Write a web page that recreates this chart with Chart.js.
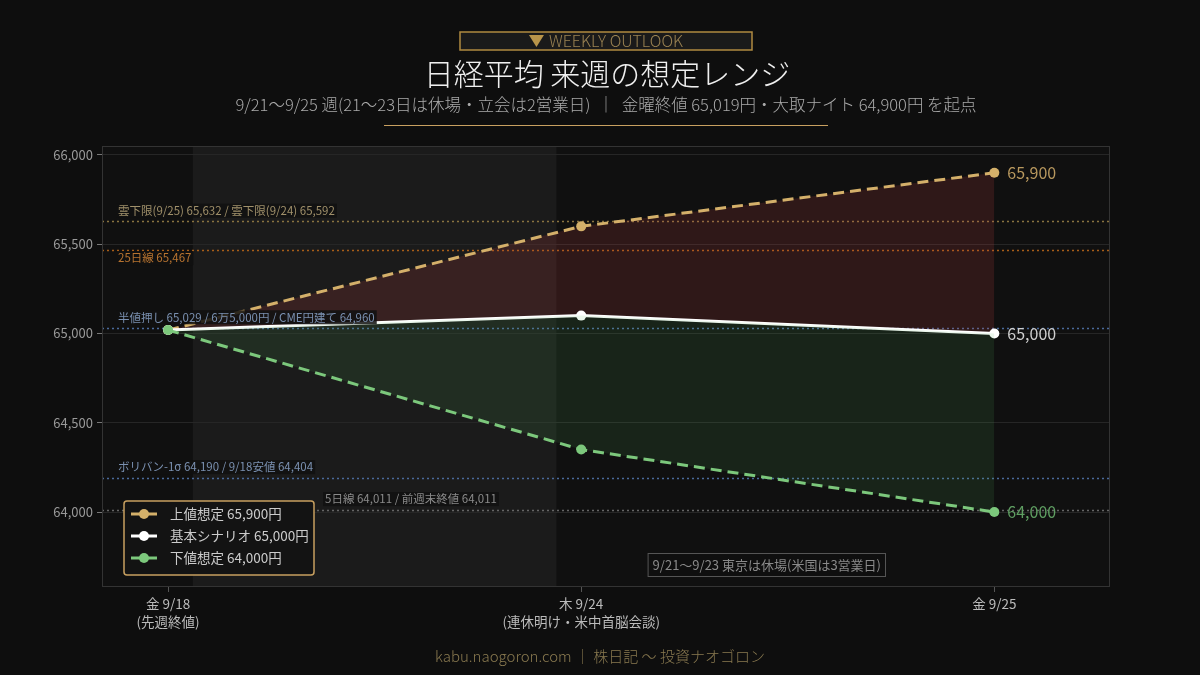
<!DOCTYPE html>
<html><head><meta charset="utf-8">
<script src="https://cdn.jsdelivr.net/npm/chart.js@4"></script>
<style>html,body{margin:0;padding:0;background:#0e0e0e;}#wrap{width:1200px;height:675px;position:relative;}</style>
</head><body><div id="wrap"><canvas id="c" width="1200" height="675"></canvas></div>
<script>
const FONT = '"Noto Sans CJK JP", "Noto Sans", sans-serif';
const xPositions = [0, 1, 2];
const xLabels = [['金 9/18', '(先週終値)'], ['木 9/24', '(連休明け・米中首脳会談)'], ['金 9/25']];
const upperValues = [65019, 65600, 65900];
const baseValues = [65019, 65100, 65000];
const lowerValues = [65019, 64350, 64000];
const seriesLabels = ['上値想定 65,900円', '基本シナリオ 65,000円', '下値想定 64,000円'];
const endLabels = ['65,900', '65,000', '64,000'];
const yTicks = [64000, 64500, 65000, 65500, 66000];
const refValues = [65632, 65467, 65029, 64190, 64011];
const refLabels = ['雲下限(9/25) 65,632 / 雲下限(9/24) 65,592', '25日線 65,467', '半値押し 65,029 / 6万5,000円 / CME円建て 64,960', 'ボリバン-1σ 64,190 / 9/18安値 64,404', '5日線 64,011 / 前週末終値 64,011'];
const holidayBand = [0.06, 0.94];
const holidayNote = '9/21〜9/23 東京は休場(米国は3営業日)';
const headerTag = 'WEEKLY OUTLOOK';
const titleText = '日経平均 来週の想定レンジ';
const subtitleText = '9/21〜9/25 週(21〜23日は休場・立会は2営業日)  ｜  金曜終値 65,019円・大取ナイト 64,900円 を起点';
const footerText = 'kabu.naogoron.com ｜ 株日記 〜 投資ナオゴロン';

const seriesColors = ['#d4b06a', '#ffffff', '#7cc87c'];
const endLabelColors = ['#b8985e', '#cfcfcf', '#5f9f62'];
const refLineColors = ['#8a7440', '#a85e18', '#4a6a9a', '#4a6a9a', '#666666'];
const refTextColors = ['#a0906a', '#b87430', '#7a90b0', '#7a90b0', '#8a8a8a'];

const toPts = arr => arr.map((v, i) => ({x: xPositions[i], y: v}));

const deco = {
  id: 'deco',
  beforeDraw(chart) {
    const {ctx, chartArea: a, scales: {x}} = chart;
    ctx.save();
    ctx.fillStyle = '#0e0e0e';
    ctx.fillRect(0, 0, chart.width, chart.height);
    ctx.fillStyle = '#101010';
    ctx.fillRect(a.left, a.top, a.right - a.left, a.bottom - a.top);
    const bx1 = x.getPixelForValue(holidayBand[0]), bx2 = x.getPixelForValue(holidayBand[1]);
    ctx.fillStyle = '#1b1b1b';
    ctx.fillRect(bx1, a.top, bx2 - bx1, a.bottom - a.top);
    ctx.restore();
  },
  beforeDatasetsDraw(chart) {
    const {ctx, chartArea: a, scales: {y}} = chart;
    ctx.save();
    ctx.lineWidth = 1.5;
    ctx.setLineDash([2, 3]);
    refValues.forEach((v, i) => {
      const py = Math.round(y.getPixelForValue(v)) + 0.5;
      ctx.strokeStyle = refLineColors[i];
      ctx.beginPath(); ctx.moveTo(a.left, py); ctx.lineTo(a.right, py); ctx.stroke();
    });
    ctx.restore();
  },
  afterDatasetsDraw(chart) {
    const {ctx, chartArea: a, scales: {x, y}} = chart;
    ctx.save();
    ctx.font = '11.5px ' + FONT;
    ctx.textBaseline = 'middle';
    ctx.textAlign = 'left';
    const offs = [-10, 8, -11, -11, -11];
    const lx = [a.left + 16, a.left + 16, a.left + 16, a.left + 16, a.left + 223];
    refValues.forEach((v, i) => {
      const py = y.getPixelForValue(v) + offs[i];
      const w = ctx.measureText(refLabels[i]).width;
      ctx.fillStyle = 'rgba(16,16,16,0.85)';
      ctx.fillRect(lx[i] - 2, py - 7, w + 4, 14);
      ctx.fillStyle = refTextColors[i];
      ctx.fillText(refLabels[i], lx[i], py);
    });
    ctx.font = '16px ' + FONT;
    [upperValues, baseValues, lowerValues].forEach((arr, i) => {
      const n = arr.length - 1;
      ctx.fillStyle = endLabelColors[i];
      ctx.fillText(endLabels[i], x.getPixelForValue(xPositions[n]) + 13, y.getPixelForValue(arr[n]));
    });
    ctx.font = '13px ' + FONT;
    const nw = ctx.measureText(holidayNote).width;
    const nx2 = a.right - 224, ny2 = a.bottom - 10;
    const nx1 = nx2 - nw - 10;
    ctx.fillStyle = 'rgba(16,16,16,0.9)';
    ctx.fillRect(nx1, ny2 - 24, nx2 - nx1, 24);
    ctx.strokeStyle = '#555';
    ctx.lineWidth = 1;
    ctx.strokeRect(nx1 + 0.5, ny2 - 23.5, nx2 - nx1 - 1, 23);
    ctx.fillStyle = '#8a8a8a';
    ctx.fillText(holidayNote, nx1 + 5, ny2 - 12);
    const lgx = a.left + 22, lgy = a.bottom - 86, lgw = 190, lgh = 74;
    ctx.fillStyle = '#131313';
    ctx.beginPath(); ctx.roundRect(lgx, lgy, lgw, lgh, 3); ctx.fill();
    ctx.strokeStyle = '#c8a060'; ctx.lineWidth = 1.5; ctx.stroke();
    ctx.font = '13.5px ' + FONT;
    chart.data.datasets.forEach((ds, i) => {
      const cy = lgy + 13 + i * 22;
      ctx.strokeStyle = ds.borderColor; ctx.lineWidth = 3; ctx.setLineDash([]);
      ctx.beginPath(); ctx.moveTo(lgx + 7, cy); ctx.lineTo(lgx + 33, cy); ctx.stroke();
      ctx.fillStyle = ds.borderColor;
      ctx.beginPath(); ctx.arc(lgx + 20, cy, 5, 0, Math.PI * 2); ctx.fill();
      ctx.fillStyle = '#cccccc';
      ctx.fillText(ds.label, lgx + 46, cy);
    });
    ctx.strokeStyle = '#333';
    ctx.lineWidth = 1;
    ctx.strokeRect(a.left + 0.5, a.top + 0.5, a.right - a.left - 1, a.bottom - a.top - 1);
    ctx.restore();
  },
  afterDraw(chart) {
    const {ctx, chartArea: a} = chart;
    const cx = (a.left + a.right) / 2;
    ctx.save();
    ctx.textAlign = 'center'; ctx.textBaseline = 'middle';
    ctx.fillStyle = '#1a1a1a';
    ctx.fillRect(cx - 146, 32, 292, 18);
    ctx.strokeStyle = '#b08a40'; ctx.lineWidth = 1.5;
    ctx.strokeRect(cx - 146, 32, 292, 18);
    ctx.font = '300 16px ' + FONT;
    ctx.textAlign = 'left';
    const tw = ctx.measureText(headerTag).width;
    const tx = cx - (tw + 20) / 2;
    ctx.fillStyle = '#b8944a';
    ctx.beginPath(); ctx.moveTo(tx, 35); ctx.lineTo(tx + 15, 35); ctx.lineTo(tx + 7.5, 47); ctx.closePath(); ctx.fill();
    ctx.fillStyle = '#9a8252';
    ctx.fillText(headerTag, tx + 20, 41);
    ctx.textAlign = 'center';
    ctx.font = '300 30px ' + FONT;
    ctx.fillStyle = '#f0f0f0';
    ctx.fillText(titleText, cx + 1, 74);
    ctx.font = '300 16.5px ' + FONT;
    ctx.fillStyle = '#aaaaaa';
    ctx.fillText(subtitleText, cx, 105);
    ctx.strokeStyle = '#c8a060'; ctx.lineWidth = 1;
    ctx.beginPath(); ctx.moveTo(cx - 222, 125.5); ctx.lineTo(cx + 222, 125.5); ctx.stroke();
    ctx.font = '300 15px ' + FONT;
    ctx.fillStyle = '#8a7a50';
    ctx.fillText(footerText, cx - 6, 656);
    ctx.restore();
  }
};

new Chart(document.getElementById('c'), {
  type: 'line',
  data: {
    datasets: [
      {label: seriesLabels[0], data: toPts(upperValues), borderColor: seriesColors[0], backgroundColor: 'rgba(190,60,60,0.18)', borderWidth: 3, borderDash: [11, 6], pointRadius: 5, pointBackgroundColor: seriesColors[0], pointBorderWidth: 0, fill: {target: 1}, order: 2, tension: 0},
      {label: seriesLabels[1], data: toPts(baseValues), borderColor: seriesColors[1], backgroundColor: seriesColors[1], borderWidth: 3, pointRadius: 5, pointBackgroundColor: seriesColors[1], pointBorderWidth: 0, fill: false, order: 1, tension: 0},
      {label: seriesLabels[2], data: toPts(lowerValues), borderColor: seriesColors[2], backgroundColor: 'rgba(80,180,90,0.12)', borderWidth: 3, borderDash: [11, 6], pointRadius: 5, pointBackgroundColor: seriesColors[2], pointBorderWidth: 0, fill: {target: 1}, order: 0, tension: 0}
    ]
  },
  options: {
    responsive: false,
    animation: false,
    layout: {padding: {left: 0, top: 146, right: 90, bottom: 38}},
    plugins: {legend: {display: false}, tooltip: {enabled: false}, title: {display: false}},
    scales: {
      x: {
        type: 'linear', min: -0.16, max: 2.28,
        afterBuildTicks: s => { s.ticks = xPositions.map(v => ({value: v})); },
        afterFit: s => { s.height = 50; },
        grid: {drawOnChartArea: false, drawTicks: true, tickLength: 5, tickColor: '#555'},
        border: {display: false},
        ticks: {color: '#bbbbbb', font: {family: FONT, size: 13.5, lineHeight: 1.35}, padding: 3, maxRotation: 0, autoSkip: false,
          callback: (v) => { const i = xPositions.indexOf(v); return i >= 0 ? xLabels[i] : ''; }}
      },
      y: {
        min: 63580, max: 66050,
        afterBuildTicks: s => { s.ticks = yTicks.map(v => ({value: v})); },
        afterFit: s => { s.width = 102; },
        grid: {color: '#262626', tickLength: 5, tickColor: '#777', lineWidth: 1},
        border: {display: false},
        ticks: {color: '#999999', font: {family: FONT, size: 13}, padding: 4,
          callback: v => v.toLocaleString('en-US')}
      }
    }
  },
  plugins: [deco]
});
</script></body></html>
